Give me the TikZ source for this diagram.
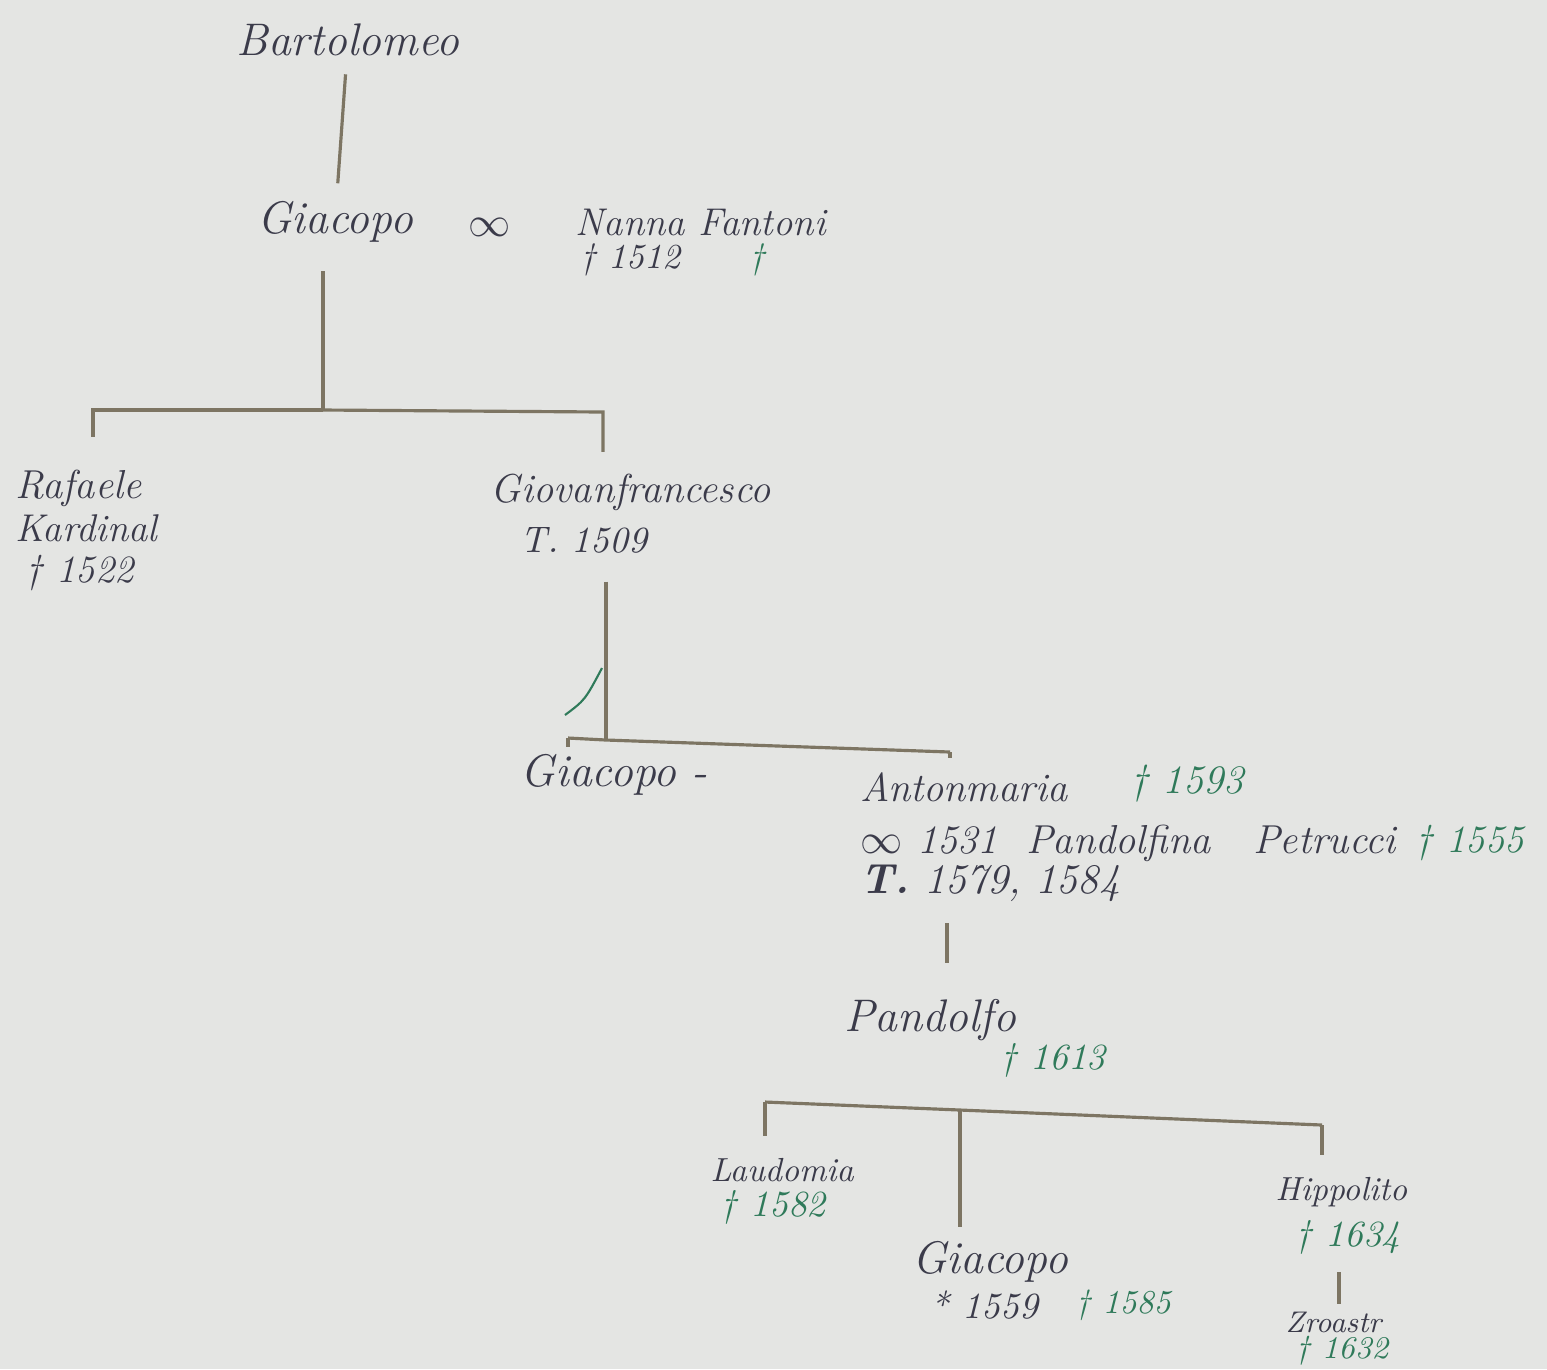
\documentclass[tikz,border=0pt]{standalone}
\usetikzlibrary{positioning}
\definecolor{ink}{HTML}{3B3B4A}
\definecolor{deathgreen}{HTML}{2F7A5A}
\definecolor{stroke}{HTML}{7D7563}
\definecolor{paper}{HTML}{E4E5E3}

\begin{document}
\begin{tikzpicture}[x=0.1mm, y=-0.1mm,
        person/.style = {inner sep=0pt, text=ink, font=\fontsize{13}{15}\selectfont\itshape},
        minor/.style = {person, font=\fontsize{9.5}{11}\selectfont\itshape},
        note/.style = {anchor=west, inner sep=0pt, text=ink, font=\fontsize{10.5}{12}\selectfont\itshape},
        died/.style = {note, text=deathgreen},
        branch/.style = {draw=stroke, line width=0.9pt},
    ]
    \useasboundingbox[fill=paper] (0,0) rectangle (1547,1369);

    % first generations
    \node (bart) at (348,40) [person] {Bartolomeo};
    \node (giac1) at (335,222) [person] {Giacopo};
    \node (marr1) at (490,227) [person] {$\infty$};
    \node (nanna) at (575,222) [person, anchor=west, font=\fontsize{11}{13}\selectfont\itshape] {Nanna Fantoni};
    \node (nanna-d) at (580,260) [note, font=\fontsize{10}{12}\selectfont\itshape] {\textdagger\ 1512};
    \node (fant-d) at (757,260) [died, anchor=center, font=\fontsize{10}{12}\selectfont\itshape] {\textdagger};

    \draw[branch, shorten <=5pt, shorten >=5pt] (bart) -- (giac1);

    \coordinate (t1) at (323,410);
    \coordinate (b1l) at (93,410);
    \coordinate (b1r) at (603,412);

    \node (raf) at (15,488) [person, anchor=west, font=\fontsize{11.5}{13}\selectfont\itshape] {Rafaele};
    \node (raf-t) at (15,528) [note, font=\fontsize{11}{13}\selectfont\itshape] {Kardinal};
    \node (raf-d) at (25,573) [note, font=\fontsize{11}{13}\selectfont\itshape] {\textdagger\ 1522};
    \node (giov) at (490,492) [person, anchor=west, font=\fontsize{11.5}{13}\selectfont\itshape] {Giovanfrancesco};
    \node (giov-t) at (520,540) [note] {T. 1509};

    \draw[branch, shorten <=8pt] (giac1.south -| t1) -- (t1);
    \draw[branch, shorten >=9pt] (t1) -- (b1l) -- (raf.north -| b1l);
    \draw[branch, shorten >=6pt] (t1) -- (b1r) -- (giov.north -| b1r);

    % line of Giovanfrancesco
    \coordinate (t2) at (606,740);
    \coordinate (b2l) at (568,738);
    \coordinate (b2r) at (950,752);
    \draw[deathgreen, line width=0.6pt] (565,715) .. controls (585,700) .. (602,668);

    \node (giac2) at (520,775) [person, anchor=west] {Giacopo\,\,-};
    \node (anton) at (860,787) [person, anchor=west, font=\fontsize{11.5}{13}\selectfont\itshape] {Antonmaria};
    \node (anton-d) at (1130,784) [died, font=\fontsize{11.5}{13}\selectfont\itshape] {\textdagger\ 1593};
    \node (anton-m) at (860,843) [note, font=\fontsize{11.5}{13}\selectfont\itshape] {$\infty$ 1531 \ Pandolfina \ \ Petrucci};
    \node (anton-md) at (1415,843) [died, font=\fontsize{11}{13}\selectfont\itshape] {\textdagger\ 1555};
    \node (anton-t) at (860,883) [note, font=\fontsize{12}{14}\selectfont\itshape] {\textbf{T.} 1579, 1584};

    \draw[branch, shorten <=8pt] (giov-t.south -| t2) -- (t2);
    \draw[branch] (b2l) -- (t2) -- (b2r);
    \draw[branch, shorten >=2pt] (b2l) -- (giac2.north -| b2l);
    \draw[branch, shorten >=4pt] (b2r) -- (anton.north -| b2r);

    % Pandolfo and children
    \coordinate (s3) at (947,937);
    \node (pand) at (930,1020) [person] {Pandolfo};
    \node (pand-d) at (1000,1060) [died] {\textdagger\ 1613};
    \draw[branch, shorten <=6pt, shorten >=10pt] (anton-t.south -| s3) -- (pand.north -| s3);

    \coordinate (b3l) at (765,1102);
    \coordinate (b3m) at (960,1110);
    \coordinate (b3r) at (1322,1125);

    \node (laud) at (710,1170) [minor, anchor=west] {Laudomia};
    \node (laud-d) at (720,1207) [died] {\textdagger\ 1582};
    \node (giac3) at (990,1262) [person] {Giacopo};
    \node (giac3-b) at (930,1305) [note] {* 1559};
    \node (giac3-d) at (1075,1305) [died, font=\fontsize{9.5}{11}\selectfont\itshape] {\textdagger\ 1585};
    \node (hipp) at (1275,1192) [minor, anchor=west] {Hippolito};
    \node (hipp-d) at (1295,1237) [died] {\textdagger\ 1634};
    \node (zoro) at (1285,1322) [minor, anchor=west, font=\fontsize{8.5}{10}\selectfont\itshape] {Zroastr};
    \node (zoro-d) at (1295,1351) [died, font=\fontsize{9}{10}\selectfont\itshape] {\textdagger\ 1632};

    \draw[branch, shorten >=6pt] (b3l) -- (laud.north -| b3l);
    \draw[branch] (b3l) -- (b3m) -- (b3r);
    \draw[branch, shorten >=4pt] (b3m) -- (giac3.north -| b3m);
    \draw[branch, shorten >=6pt] (b3r) -- (hipp.north -| b3r);
    \draw[branch, shorten <=5pt, shorten >=2pt] (hipp-d.south -| 1339,0) -- (zoro.north -| 1339,0);

\end{tikzpicture}
\end{document}
